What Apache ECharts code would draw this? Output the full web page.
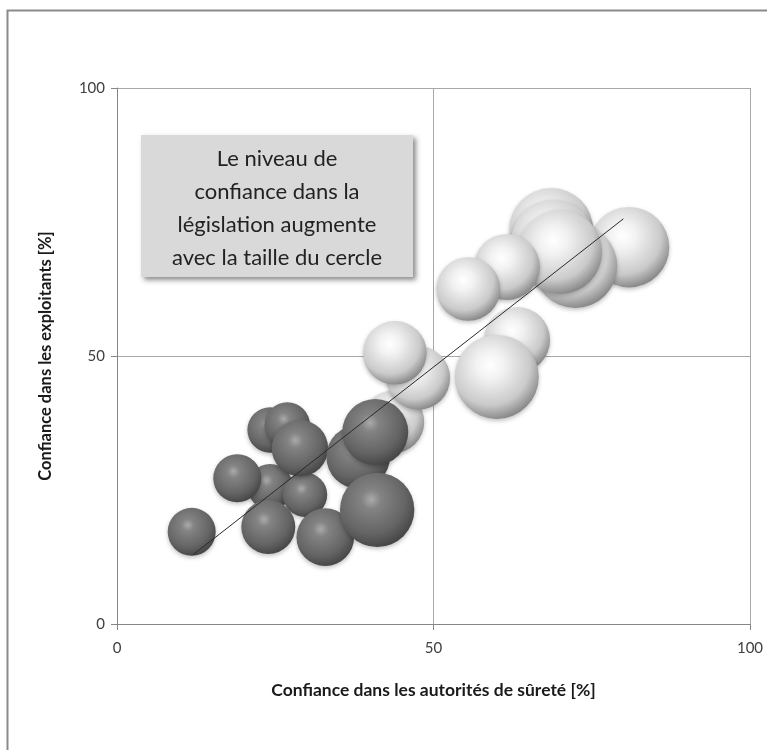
<!DOCTYPE html>
<html>
<head>
<meta charset="utf-8">
<script src="https://cdn.jsdelivr.net/npm/echarts@6/dist/echarts.min.js"></script>
<style>
  html, body { margin: 0; padding: 0; background: #fff; }
  #chart { width: 767px; height: 750px; }
</style>
</head>
<body>
<div id="chart"></div>
<script>
// confiance dans les autorités de sûreté [%] (x), dans les exploitants [%] (y), dans la législation (taille)
const darkX = [24.2, 26.9, 24.2, 29.7, 28.9, 19.0, 38.1, 40.8, 23.9, 32.9, 41.1, 11.8]
const darkY = [36.2, 37.1, 25.6, 24.1, 32.8, 27.2, 31.2, 35.8, 18.1, 16.2, 21.3, 17.2]
const darkLeg = [38, 38, 38, 37, 47, 40, 53, 55, 45, 48, 62, 40]

const lightX = [80.9, 68.6, 68.9, 72.4, 70.0, 63.2, 60.0, 61.6, 55.5, 43.6, 47.6, 43.9]
const lightY = [70.3, 73.5, 71.3, 66.8, 69.4, 53.0, 46.1, 66.6, 62.5, 37.7, 45.9, 50.6]
const lightLeg = [67, 70, 70, 70, 70, 55, 70, 55, 53, 52, 53, 53]

// droite de tendance
const trendX = [12, 80]
const trendY = [12.9, 75.6]

const xTitle = 'Confiance dans les autorités de sûreté [%]'
const yTitle = 'Confiance dans les exploitants [%]'
const noteLines = ['Le niveau de', 'confiance dans la', 'législation augmente', 'avec la taille du cercle']

const chart = echarts.init(document.getElementById('chart'))

function toPoints(xs, ys, zs) {
  return xs.map((x, i) => zs ? [x, ys[i], zs[i]] : [x, ys[i]])
}

function bubbleSize(val) {
  return val[2] * 1.2
}

const darkFill = new echarts.graphic.RadialGradient(0.42, 0.36, 0.66, [
  {offset: 0, color: '#aaaaaa'},
  {offset: 0.2, color: '#838383'},
  {offset: 0.7, color: '#646464'},
  {offset: 1, color: '#454545'}
])
const lightFill = new echarts.graphic.RadialGradient(0.42, 0.36, 0.66, [
  {offset: 0, color: '#ffffff'},
  {offset: 0.25, color: '#f2f2f2'},
  {offset: 0.72, color: '#cacaca'},
  {offset: 1, color: '#858585'}
])

const fontFam = 'Lato, "Open Sans", sans-serif'
const axisColor = '#868686'

const axisCommon = {
  type: 'value',
  min: 0,
  max: 100,
  interval: 50,
  axisLine: {show: true, lineStyle: {color: axisColor, width: 1}},
  axisTick: {show: true, length: 6, lineStyle: {color: axisColor}},
  splitLine: {show: true, lineStyle: {color: '#a8a8a8', width: 1}},
  axisLabel: {color: '#404040', fontSize: 15, fontFamily: fontFam},
  nameLocation: 'middle'
}

const nameStyle = {
  color: '#1a1a1a',
  fontWeight: 'bold',
  fontFamily: fontFam
}

chart.setOption({
  animation: false,
  backgroundColor: '#fff',
  grid: {left: 117, top: 88, right: 17, bottom: 126, outerBoundsMode: 'none'},
  xAxis: Object.assign({}, axisCommon, {
    name: xTitle,
    nameGap: 57,
    nameTextStyle: Object.assign({fontSize: 17.5}, nameStyle),
    axisLabel: Object.assign({}, axisCommon.axisLabel, {margin: 17})
  }),
  yAxis: Object.assign({}, axisCommon, {
    name: yTitle,
    nameGap: 63,
    nameTextStyle: Object.assign({fontSize: 16.5}, nameStyle),
    axisLabel: Object.assign({}, axisCommon.axisLabel, {margin: 12})
  }),
  graphic: [
    {
      type: 'rect',
      left: 5, top: 8,
      shape: {width: 820, height: 820},
      style: {fill: 'none', stroke: '#8a8a8a', lineWidth: 2},
      silent: true
    },
    {
      type: 'rect',
      left: 141, top: 135,
      z: 20,
      shape: {width: 272, height: 142},
      style: {
        fill: '#d9d9d9',
        shadowBlur: 5,
        shadowOffsetX: 3,
        shadowOffsetY: 3,
        shadowColor: 'rgba(0,0,0,0.45)'
      },
      silent: true
    },
    {
      type: 'text',
      x: 277, y: 208,
      z: 21,
      style: {
        text: noteLines.join('\n'),
        align: 'center',
        verticalAlign: 'middle',
        fontSize: 22,
        lineHeight: 33,
        fontFamily: fontFam,
        fill: '#222'
      },
      silent: true
    }
  ],
  series: [
    {
      name: 'light',
      type: 'scatter',
      data: toPoints(lightX, lightY, lightLeg),
      symbolSize: bubbleSize,
      itemStyle: {
        color: lightFill,
        opacity: 1,
        shadowBlur: 4,
        shadowOffsetY: 2,
        shadowColor: 'rgba(0,0,0,0.25)'
      },
      emphasis: {disabled: true},
      z: 2
    },
    {
      name: 'dark',
      type: 'scatter',
      data: toPoints(darkX, darkY, darkLeg),
      symbolSize: bubbleSize,
      itemStyle: {
        color: darkFill,
        opacity: 1,
        shadowBlur: 4,
        shadowOffsetY: 2,
        shadowColor: 'rgba(0,0,0,0.25)'
      },
      emphasis: {disabled: true},
      z: 3
    },
    {
      name: 'tendance',
      type: 'line',
      data: toPoints(trendX, trendY),
      symbol: 'none',
      lineStyle: {color: '#2a2a2a', width: 1},
      emphasis: {disabled: true},
      z: 5
    }
  ]
})
</script>
</body>
</html>
